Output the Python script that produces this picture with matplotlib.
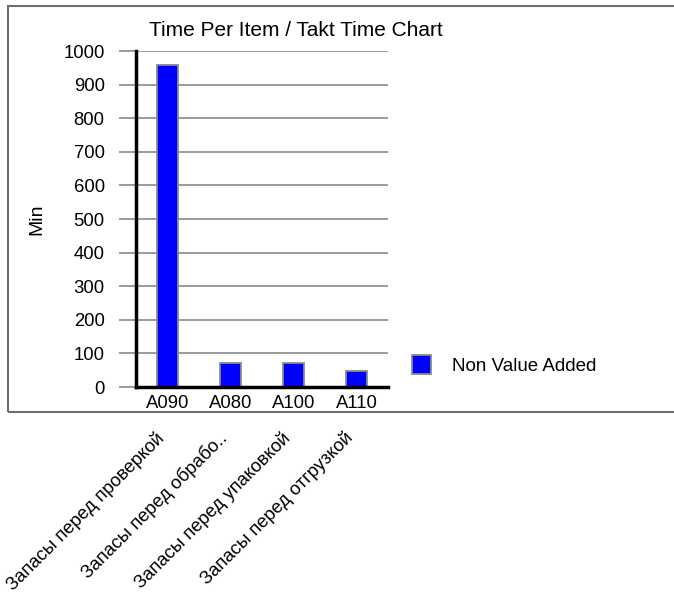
import numpy as np
import matplotlib.pyplot as plt
from matplotlib.patches import Rectangle
from matplotlib.transforms import blended_transform_factory

plt.rcParams['font.family'] = ['Liberation Sans', 'DejaVu Sans']

# Chart data
codes = ["A090", "A080", "A100", "A110"]
names = ["Запасы перед проверкой", "Запасы перед обрабо..",
         "Запасы перед упаковкой", "Запасы перед отгрузкой"]
non_value_added = [958, 72, 72, 48]
y_ticks = [0, 100, 200, 300, 400, 500, 600, 700, 800, 900, 1000]

W, H = 674, 596
fig = plt.figure(figsize=(W / 100, H / 100), dpi=100)

# outer frame (right edge runs off the picture)
fig.patches.append(Rectangle((8 / W, 1 - 412 / H), 700 / W, 406 / H,
                             transform=fig.transFigure, fill=False,
                             edgecolor='#6e6e6e', linewidth=1.5))

ax = fig.add_axes([136 / W, 1 - 387 / H, 252 / W, 336 / H])
x = np.arange(len(codes))
ax.bar(x, non_value_added, width=0.34, color='#0000ff',
       edgecolor='#8a8a8a', linewidth=1.3, zorder=3, label='Non Value Added')

ax.set_xlim(-0.5, len(codes) - 0.5)
ax.set_ylim(0, 1000)
ax.set_yticks(y_ticks)
ax.set_yticklabels([str(v) for v in y_ticks], fontsize=13.3)
ax.set_xticks(x)
ax.set_xticklabels(codes, fontsize=13.3)
ax.tick_params(axis='y', length=12.5, width=1.2, color='#8a8a8a', pad=10)
ax.tick_params(axis='x', length=0, pad=6)

ax.grid(axis='y', color='#8a8a8a', linewidth=1.2, zorder=0)
ax.set_axisbelow(True)
for s in ['top', 'right']:
    ax.spines[s].set_visible(False)
for s in ['left', 'bottom']:
    ax.spines[s].set_linewidth(2.5)
    ax.spines[s].set_color('black')
    ax.spines[s].set_zorder(4)

ax.set_ylabel('Min', fontsize=14, labelpad=13)
fig.text(296 / W, 1 - 30 / H, 'Time Per Item / Takt Time Chart',
         ha='center', va='center', fontsize=15)

# rotated category names under the frame
tr = blended_transform_factory(ax.transData, fig.transFigure)
for xi, name in zip(x, names):
    ax.text(xi - 0.2, 1 - 429 / H, name, transform=tr, rotation=45,
            rotation_mode='anchor', ha='right', va='top', fontsize=13.3)

ax.legend(loc='center left', bbox_to_anchor=(1.03, 0.065), frameon=False,
          fontsize=13.5, handlelength=1.0, handleheight=1.15, handletextpad=1.1)

fig.savefig('out.png', dpi=100)
